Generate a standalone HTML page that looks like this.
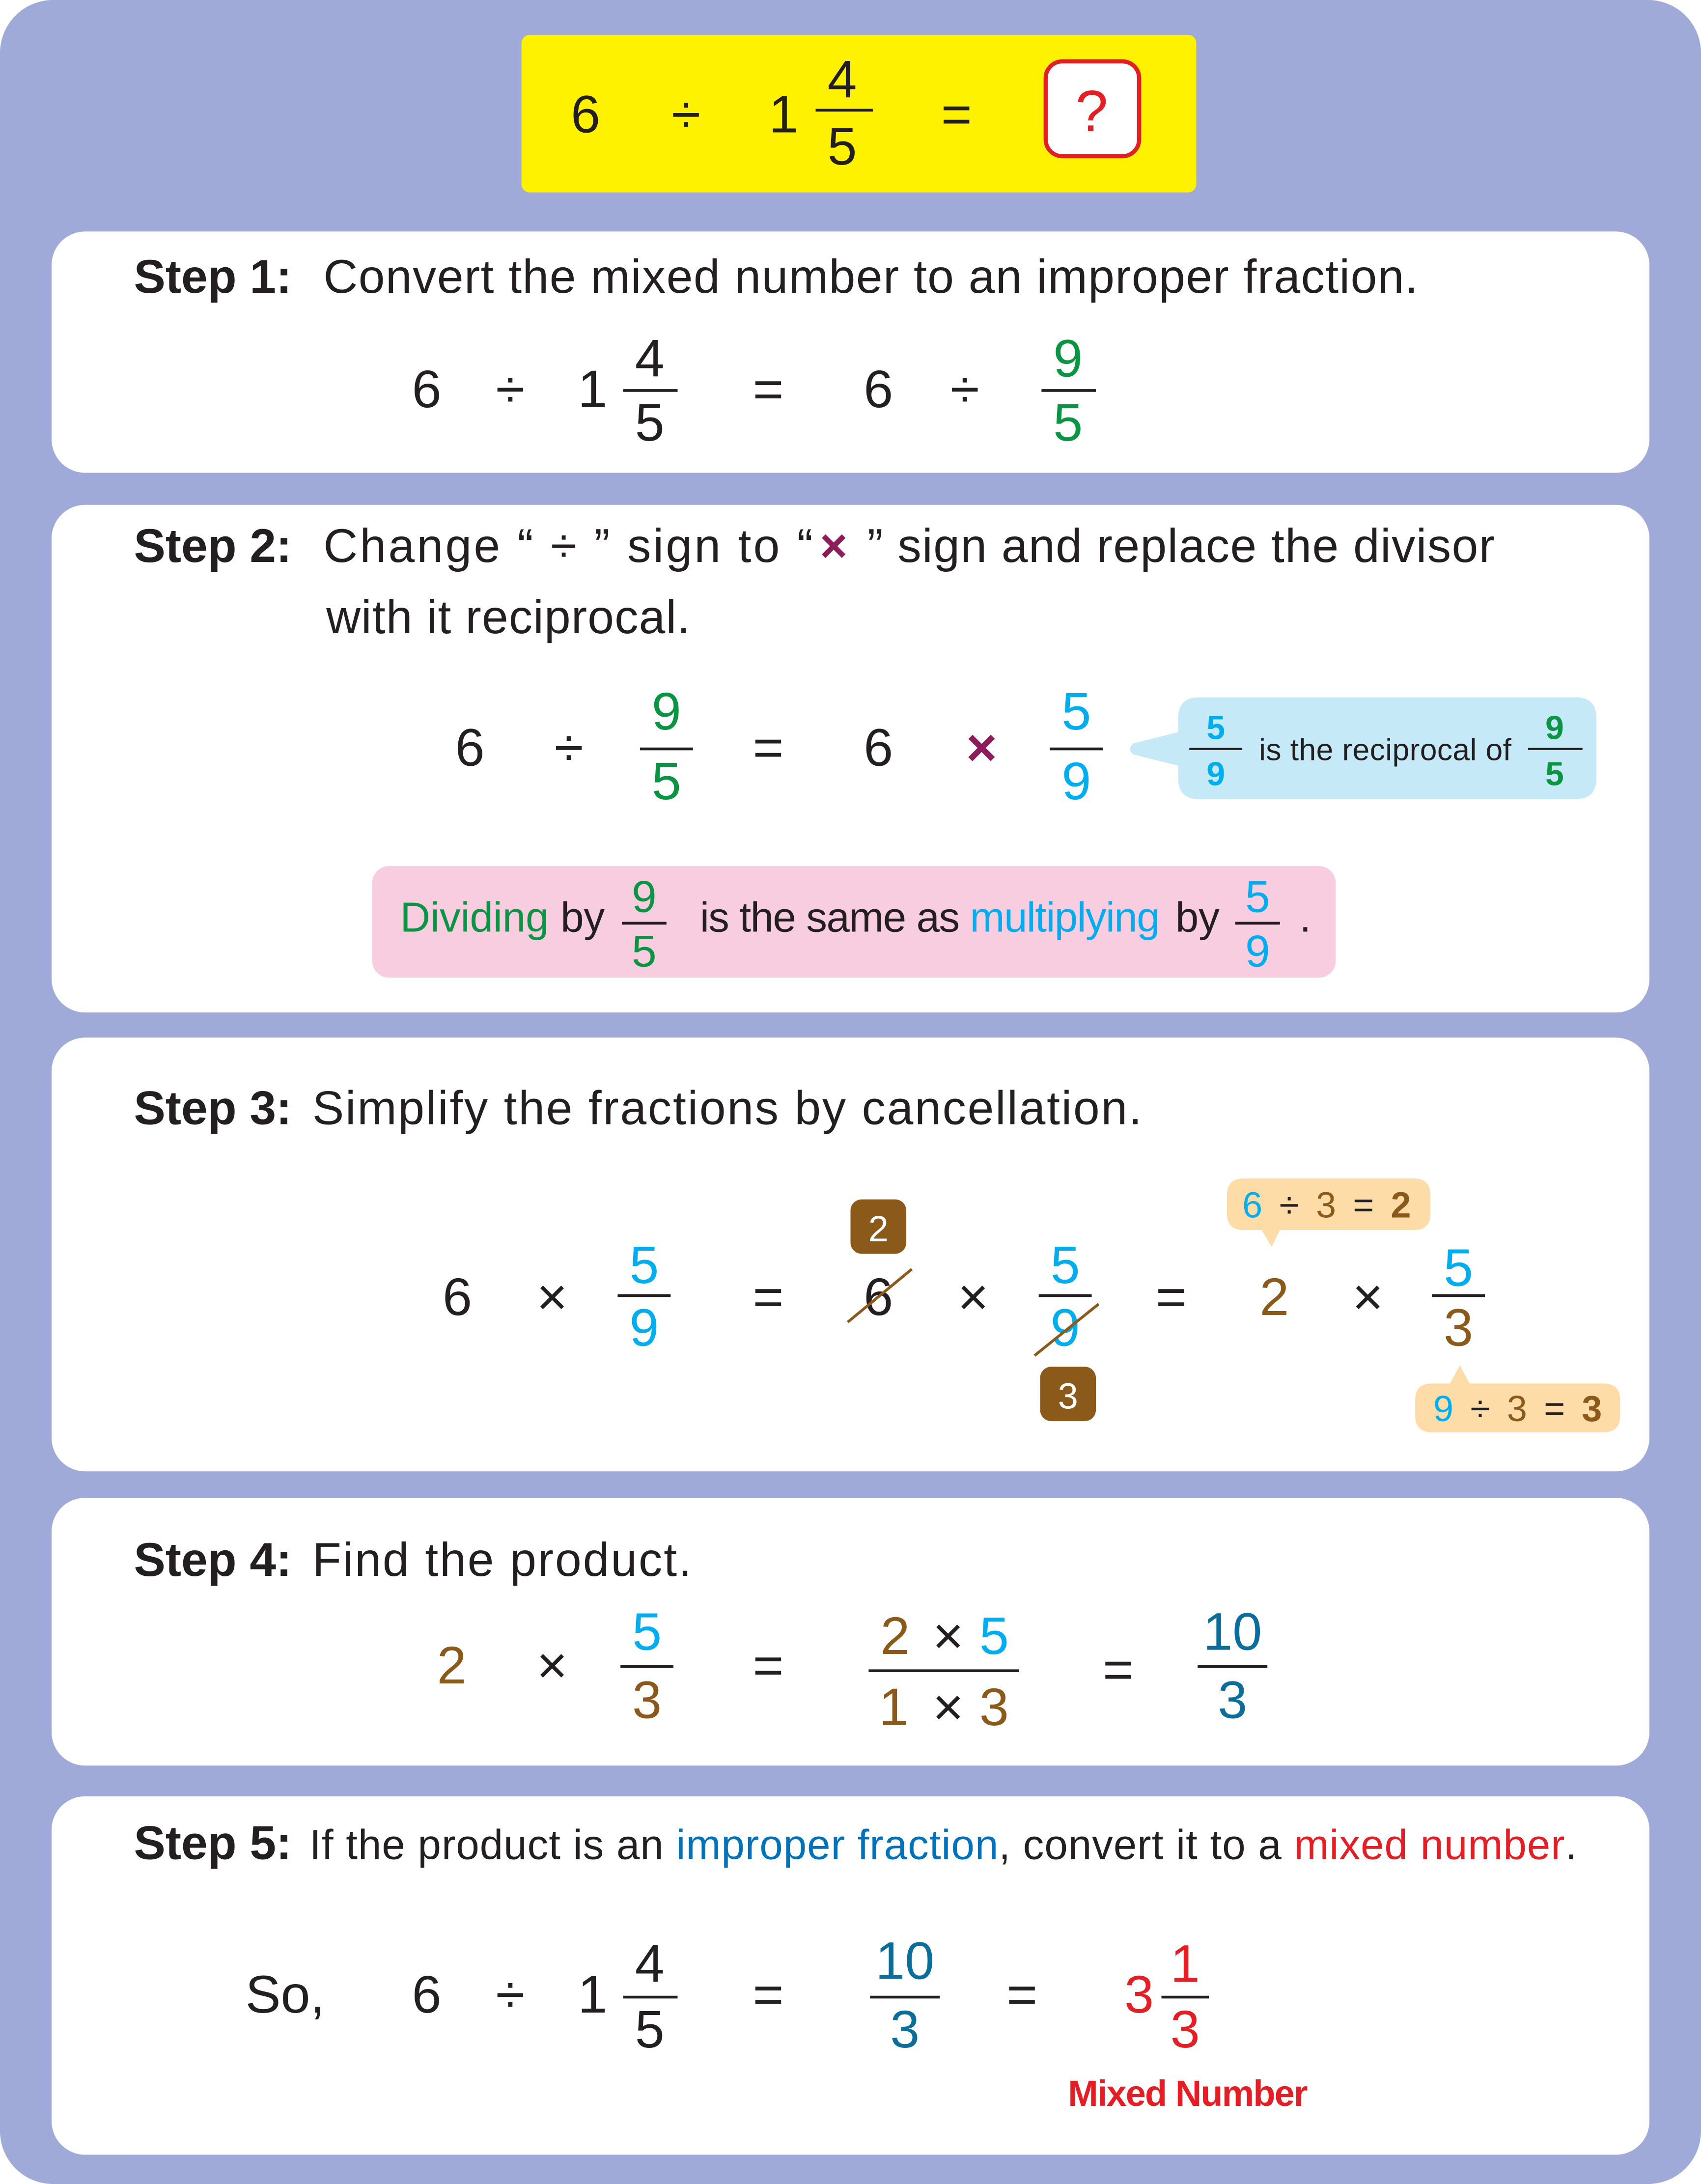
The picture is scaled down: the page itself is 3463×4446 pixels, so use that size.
<!DOCTYPE html>
<html><head><meta charset="utf-8"><style>
html,body{margin:0;padding:0;background:#fff;}
svg{display:block;}
text{font-family:"Liberation Sans",sans-serif;}
.m{font-size:38px;text-anchor:middle;fill:#231f20;}
.t{font-size:34px;fill:#231f20;}
.b{font-weight:bold;}
.g{fill:#0a9444;}.bl{fill:#00aeef;}.br{fill:#8b5a1a;}.r{fill:#e31e24;}.db{fill:#0a6d9a;}.p{fill:#8b1e5a;}
</style></head><body>
<svg width="3463" height="4446" viewBox="0 0 1220 1566" preserveAspectRatio="none" xmlns="http://www.w3.org/2000/svg">
<rect x="0" y="0" width="1220" height="1566" rx="38" fill="#9faad8"/>
<rect x="374" y="25" width="484" height="113" rx="6" fill="#fff200"/>
<text class="m" x="420" y="95">6</text><text class="m" x="492" y="95">÷</text><text class="m" x="562" y="95">1</text>
<text class="m" x="604" y="70">4</text><line x1="585" y1="79" x2="626" y2="79" stroke="#231f20" stroke-width="2"/><text class="m" x="604" y="118">5</text>
<text class="m" x="686" y="95">=</text>
<rect x="750" y="44" width="67" height="68" rx="12" fill="#fff" stroke="#e31e24" stroke-width="3"/><text class="m r" x="783" y="94" style="font-size:42px">?</text>
<rect x="37" y="166" width="1146" height="173" rx="24" fill="#fff"/>
<rect x="37" y="362" width="1146" height="364" rx="24" fill="#fff"/>
<rect x="37" y="744" width="1146" height="311" rx="24" fill="#fff"/>
<rect x="37" y="1074" width="1146" height="192" rx="24" fill="#fff"/>
<rect x="37" y="1288" width="1146" height="257" rx="24" fill="#fff"/>
<!-- step1 -->
<text class="t b" x="96" y="210">Step 1:</text>
<text class="t" x="232" y="210" textLength="785">Convert the mixed number to an improper fraction.</text>
<text class="m" x="306" y="292">6</text><text class="m" x="366" y="292">÷</text><text class="m" x="425" y="292">1</text>
<text class="m" x="466" y="270">4</text><line x1="447" y1="280" x2="486" y2="280" stroke="#231f20" stroke-width="2"/><text class="m" x="466" y="316">5</text>
<text class="m" x="551" y="292">=</text><text class="m" x="630" y="292">6</text><text class="m" x="692" y="292">÷</text>
<text class="m g" x="766" y="270">9</text><line x1="747" y1="280" x2="786" y2="280" stroke="#231f20" stroke-width="2"/><text class="m g" x="766" y="316">5</text>
<!-- step2 -->
<text class="t b" x="96" y="403">Step 2:</text>
<text class="t" x="232" y="403" textLength="351">Change “ ÷ ” sign to “</text>
<text class="t p b" x="588" y="403">×</text>
<text class="t" x="622" y="403" textLength="450">” sign and replace the divisor</text>
<text class="t" x="234" y="454" textLength="261">with it reciprocal.</text>
<text class="m" x="337" y="549">6</text><text class="m" x="408" y="549">÷</text>
<text class="m g" x="478" y="523">9</text><line x1="459" y1="537" x2="497" y2="537" stroke="#231f20" stroke-width="2"/><text class="m g" x="478" y="573">5</text>
<text class="m" x="551" y="549">=</text><text class="m" x="630" y="549">6</text><text class="m p b" x="704" y="549">×</text>
<text class="m bl" x="772" y="523">5</text><line x1="753" y1="537" x2="791" y2="537" stroke="#231f20" stroke-width="2"/><text class="m bl" x="772" y="573">9</text>
<path d="M860 500 H1130 Q1145 500 1145 515 V558 Q1145 573 1130 573 H860 Q845 573 845 558 V549 L813 541 Q808 537 813 533 L845 525 V515 Q845 500 860 500 Z" fill="#c5e9f7"/>
<text class="m bl b" x="872" y="530" style="font-size:24px">5</text><line x1="853" y1="537" x2="891" y2="537" stroke="#231f20" stroke-width="1.5"/><text class="m bl b" x="872" y="563" style="font-size:24px">9</text>
<text x="903" y="545" style="font-size:22px;fill:#231f20" textLength="181">is the reciprocal of</text>
<text class="m g b" x="1115" y="530" style="font-size:24px">9</text><line x1="1096" y1="537" x2="1135" y2="537" stroke="#231f20" stroke-width="1.5"/><text class="m g b" x="1115" y="563" style="font-size:24px">5</text>
<rect x="267" y="621" width="691" height="80" rx="12" fill="#f8cde0"/>
<text x="287" y="668" style="font-size:30px;fill:#231f20"><tspan class="g">Dividing</tspan> by</text>
<text class="m g" x="462" y="654" style="font-size:32px">9</text><line x1="446" y1="662" x2="478" y2="662" stroke="#231f20" stroke-width="2"/><text class="m g" x="462" y="693" style="font-size:32px">5</text>
<text x="502" y="668" style="font-size:30px;fill:#231f20" textLength="330">is the same as <tspan class="bl">multiplying</tspan></text>
<text x="843" y="668" style="font-size:30px;fill:#231f20">by</text>
<text class="m bl" x="902" y="654" style="font-size:32px">5</text><line x1="886" y1="662" x2="918" y2="662" stroke="#231f20" stroke-width="2"/><text class="m bl" x="902" y="693" style="font-size:32px">9</text>
<text x="932" y="668" style="font-size:30px;fill:#231f20">.</text>
<!-- step3 -->
<text class="t b" x="96" y="806">Step 3:</text>
<text class="t" x="224" y="806" textLength="595">Simplify the fractions by cancellation.</text>
<text class="m" x="328" y="943">6</text><text class="m" x="396" y="943">×</text>
<text class="m bl" x="462" y="920">5</text><line x1="443" y1="929" x2="481" y2="929" stroke="#231f20" stroke-width="2"/><text class="m bl" x="462" y="965">9</text>
<text class="m" x="551" y="943">=</text>
<text class="m" x="630" y="943">6</text><line x1="608" y1="948" x2="654" y2="910" stroke="#8b5a1a" stroke-width="2"/>
<rect x="610" y="860" width="40" height="39" rx="8" fill="#8b5a1a"/><text class="m" x="630" y="890" style="font-size:26px;fill:#fff">2</text>
<text class="m" x="698" y="943">×</text>
<text class="m bl" x="764" y="920">5</text><line x1="745" y1="929" x2="783" y2="929" stroke="#231f20" stroke-width="2"/><text class="m bl" x="764" y="965">9</text>
<line x1="742" y1="972" x2="788" y2="935" stroke="#8b5a1a" stroke-width="2"/>
<rect x="746" y="980" width="40" height="39" rx="8" fill="#8b5a1a"/><text class="m" x="766" y="1010" style="font-size:26px;fill:#fff">3</text>
<text class="m" x="840" y="943">=</text><text class="m br" x="914" y="943">2</text><text class="m" x="981" y="943">×</text>
<text class="m bl" x="1046" y="922">5</text><line x1="1027" y1="929" x2="1065" y2="929" stroke="#231f20" stroke-width="2"/><text class="m br" x="1046" y="965">3</text>
<path d="M892 845 H1014 Q1026 845 1026 857 V870 Q1026 882 1014 882 H918 L912 894 L905 882 H892 Q880 882 880 870 V857 Q880 845 892 845 Z" fill="#fddca8"/>
<text x="891" y="873" style="font-size:26px;fill:#231f20" textLength="121"><tspan class="bl">6</tspan> ÷ <tspan class="br">3</tspan> = <tspan class="br b">2</tspan></text>
<path d="M1027 992 H1040 L1047 979 L1054 992 H1150 Q1162 992 1162 1004 V1015 Q1162 1027 1150 1027 H1027 Q1015 1027 1015 1015 V1004 Q1015 992 1027 992 Z" fill="#fddca8"/>
<text x="1028" y="1019" style="font-size:26px;fill:#231f20" textLength="121"><tspan class="bl">9</tspan> ÷ <tspan class="br">3</tspan> = <tspan class="br b">3</tspan></text>
<!-- step4 -->
<text class="t b" x="96" y="1130">Step 4:</text>
<text class="t" x="224" y="1130" textLength="272">Find the product.</text>
<text class="m br" x="324" y="1207">2</text><text class="m" x="396" y="1207">×</text>
<text class="m bl" x="464" y="1183">5</text><line x1="445" y1="1195" x2="483" y2="1195" stroke="#231f20" stroke-width="2"/><text class="m br" x="464" y="1232">3</text>
<text class="m" x="551" y="1207">=</text>
<text class="m br" x="642" y="1186">2</text><text class="m" x="680" y="1186">×</text><text class="m bl" x="713" y="1186">5</text>
<line x1="623" y1="1198" x2="731" y2="1198" stroke="#231f20" stroke-width="2"/>
<text class="m br" x="641" y="1237">1</text><text class="m" x="680" y="1237">×</text><text class="m br" x="713" y="1237">3</text>
<text class="m" x="802" y="1210">=</text>
<text class="m db" x="884" y="1183">10</text><line x1="859" y1="1195" x2="909" y2="1195" stroke="#231f20" stroke-width="2"/><text class="m db" x="884" y="1232">3</text>
<!-- step5 -->
<text class="t b" x="96" y="1333">Step 5:</text>
<text x="222" y="1333" style="font-size:30px;fill:#231f20" textLength="909">If the product is an <tspan style="fill:#0072bc">improper fraction</tspan>, convert it to a <tspan class="r">mixed number</tspan>.</text>
<text x="176" y="1443" style="font-size:38px;fill:#231f20">So,</text>
<text class="m" x="306" y="1443">6</text><text class="m" x="366" y="1443">÷</text><text class="m" x="425" y="1443">1</text>
<text class="m" x="466" y="1421">4</text><line x1="447" y1="1432" x2="486" y2="1432" stroke="#231f20" stroke-width="2"/><text class="m" x="466" y="1468">5</text>
<text class="m" x="551" y="1443">=</text>
<text class="m db" x="649" y="1419">10</text><line x1="624" y1="1432" x2="674" y2="1432" stroke="#231f20" stroke-width="2"/><text class="m db" x="649" y="1468">3</text>
<text class="m" x="733" y="1443">=</text>
<text class="m r" x="817" y="1443">3</text>
<text class="m r" x="850" y="1421">1</text><line x1="833" y1="1432" x2="867" y2="1432" stroke="#231f20" stroke-width="2"/><text class="m r" x="850" y="1468">3</text>
<text class="r b" x="766" y="1510" style="font-size:26px" textLength="172">Mixed Number</text>
</svg>
</body></html>
